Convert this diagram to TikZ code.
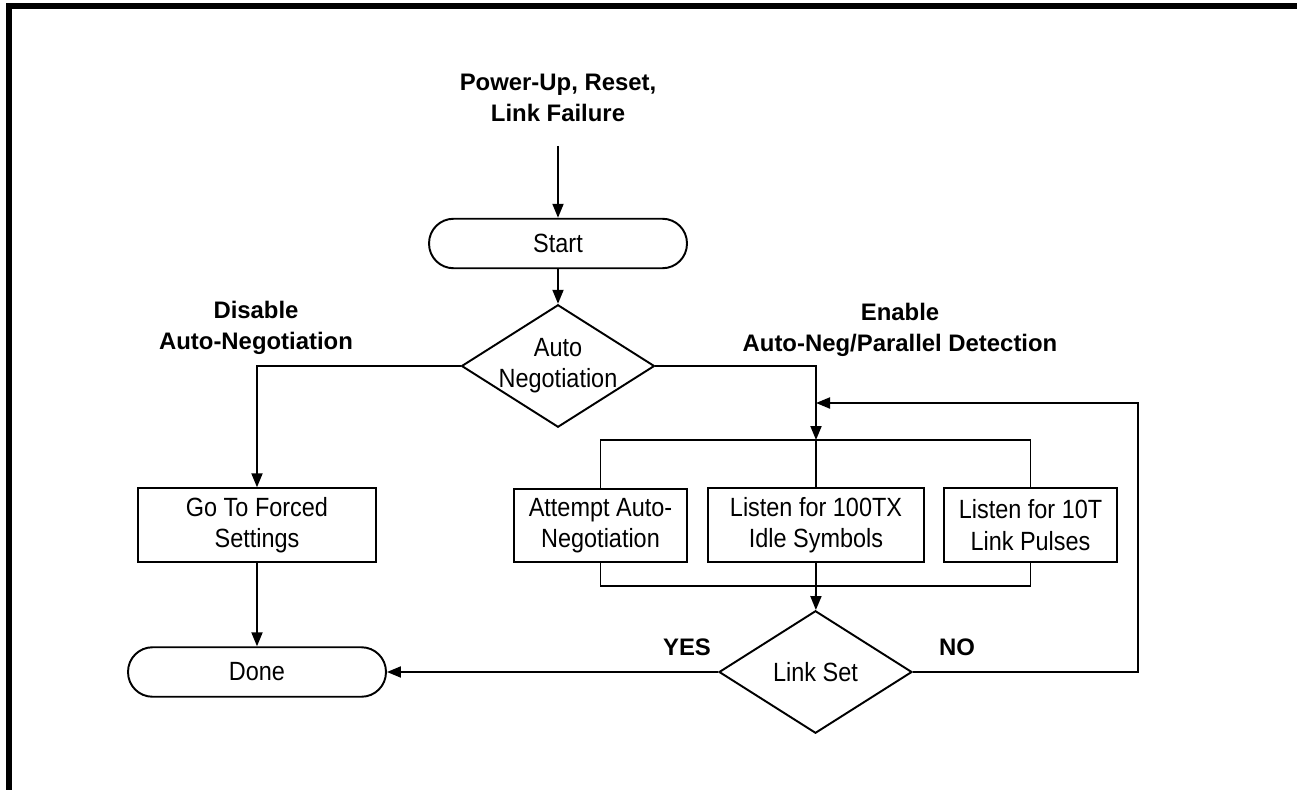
\documentclass[tikz,border=0pt]{standalone}
\usepackage{fontspec}
\setmainfont{Liberation Sans}
\newfontfamily\boxfont{Liberation Sans}[FakeStretch=0.89]
\usetikzlibrary{shapes.geometric,arrows.meta}
\tikzset{
 shp/.style={draw, line width=1.1pt, font=\boxfont\fontsize{15}{17.8}\selectfont, align=center},
 terminal/.style={shp, rectangle, rounded corners=0.49cm, minimum width=5.16cm, minimum height=0.99cm},
 process/.style={shp, rectangle, minimum height=1.47cm},
 decision/.style={shp, diamond, minimum width=3.86cm, minimum height=2.45cm, inner sep=0pt,
  label={[shp,draw=none]center:#1}},
 lbl/.style={font=\bfseries\fontsize{13.6}{17.6}\selectfont, align=center},
 arr/.style={line width=1.1pt, -{Triangle[length=0.28cm,width=0.22cm]}},
}

\begin{document}
\begin{tikzpicture}[x=0.02cm,y=-0.02cm]
\useasboundingbox (0,0) rectangle (1297,790);
\draw[line width=0.12cm] (9,790) -- (9,6) -- (1297,6);

\node[lbl] (cause) at (558,97.5) {Power-Up, Reset,\\Link Failure};
\coordinate (in) at (558,146);
\node[terminal] (start) at (558,243.5) {Start};
\node[decision={Auto\\Negotiation}] (autoneg) at (558,366) {};
\node[lbl] (off) at (256,328) {Disable\\Auto-Negotiation};
\node[lbl] (on) at (900,330) {Enable\\Auto-Neg/Parallel Detection};
\node[process, minimum width=4.76cm] (forced) at (257,525) {Go To Forced\\Settings};
\node[terminal] (done) at (257,672) {Done};

\coordinate (split) at (816,440);
\coordinate (join) at (816,586);
\coordinate (merge) at (816,403);
\coordinate (back) at (1138,403);
\node[process, minimum width=3.46cm] (attempt) at (600.5,525.5) {Attempt Auto-\\Negotiation};
\node[process, minimum width=4.32cm] (fast) at (816,525) {Listen for 100TX\\Idle Symbols};
\node[process, minimum width=3.46cm] (slow) at (1030.5,525) {Listen for 10T\\Link Pulses};
\node[decision={Link Set}] (linkset) at (815.5,672) {};
\node[lbl] (yes) at (687,647) {YES};
\node[lbl] (no) at (957,647) {NO};

\draw[arr] (in) -- (start);
\draw[arr] (start) -- (autoneg);
\draw[arr] (autoneg.west) -| (forced);
\draw[arr] (forced) -- (done);
\draw[arr] (autoneg.east) -| (split);
\draw[line width=1.1pt] (attempt.north) |- (split) -| (slow.north) (split) -- (fast.north);
\draw[line width=1.1pt] (attempt.south) |- (join) -| (slow.south) (fast.south) -- (join);
\draw[arr] (join) -- (linkset);
\draw[arr] (linkset.west) -- (done.east);
\draw[arr] (linkset.east) -| (back) -- (merge);
\end{tikzpicture}
\end{document}
